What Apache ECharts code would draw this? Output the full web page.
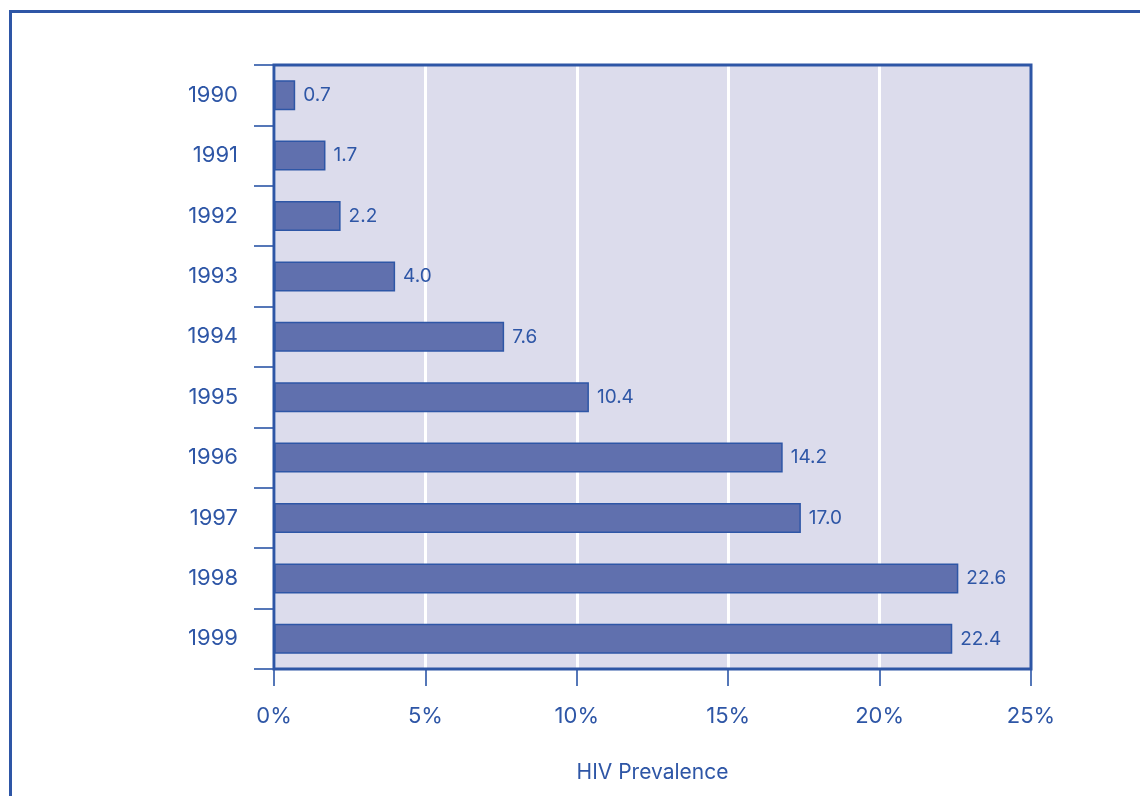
<!DOCTYPE html>
<html>
<head>
<meta charset="utf-8">
<script src="https://cdn.jsdelivr.net/npm/echarts@6/dist/echarts.min.js"></script>
<style>
html,body{margin:0;padding:0;background:#fff;}
#chart{width:1140px;height:796px;}
</style>
</head>
<body>
<div id="chart"></div>
<script>
const years = ['1990','1991','1992','1993','1994','1995','1996','1997','1998','1999'];
// bar lengths as drawn in the picture (%)
const barValues = [0.7, 1.7, 2.2, 4.0, 7.6, 10.4, 16.8, 17.4, 22.6, 22.4];
// value labels as printed beside the bars
const barLabels = ['0.7','1.7','2.2','4.0','7.6','10.4','14.2','17.0','22.6','22.4'];
const xTicks = [0, 5, 10, 15, 20, 25];
const axisTitle = 'HIV Prevalence';

const BLUE = '#2e56a6';
const FONT = 'Inter';
const chart = echarts.init(document.getElementById('chart'));
chart.setOption({
  animation: false,
  textStyle: {fontFamily: FONT},
  graphic: [{
    type: 'rect', z: -1,
    shape: {x: 10.5, y: 11.5, width: 1200, height: 900},
    style: {fill: 'none', stroke: BLUE, lineWidth: 3}
  }],
  grid: {
    left: 274, right: 109, top: 65, bottom: 127,
    show: true, backgroundColor: '#dcdcec', borderColor: BLUE, borderWidth: 0
  },
  xAxis: {
    type: 'value', min: xTicks[0], max: xTicks[xTicks.length - 1], interval: 5,
    axisLine: {show: false},
    axisTick: {show: true, length: 17, lineStyle: {color: '#5577b8', width: 2}},
    splitLine: {show: true, lineStyle: {color: '#ffffff', width: 3}},
    axisLabel: {formatter: '{value}%', color: BLUE, fontSize: 22, margin: 36, fontFamily: FONT},
    name: axisTitle, nameLocation: 'middle', nameGap: 93,
    nameTextStyle: {color: BLUE, fontSize: 21, fontFamily: FONT}
  },
  yAxis: {
    type: 'category', data: years, inverse: true,
    axisLine: {show: false},
    axisTick: {show: true, length: 20, lineStyle: {color: '#5577b8', width: 2}},
    axisLabel: {color: BLUE, fontSize: 22, margin: 36, fontFamily: FONT},
    splitLine: {show: false}
  },
  series: [{
    type: 'bar', data: barValues, barWidth: 30,
    itemStyle: {color: '#6070ae', borderColor: BLUE, borderWidth: 1.5},
    label: {
      show: true, position: 'right', distance: 8, color: BLUE, fontSize: 19, fontFamily: FONT,
      formatter: p => barLabels[p.dataIndex]
    },
    z: 3
  }, {
    // plot frame drawn on top of the split lines
    type: 'custom', z: 4, silent: true, data: [0],
    renderItem: (params, api) => ({
      type: 'rect',
      shape: {x: params.coordSys.x, y: params.coordSys.y, width: params.coordSys.width, height: params.coordSys.height},
      style: {fill: 'none', stroke: BLUE, lineWidth: 3}
    })
  }]
});
</script>
</body>
</html>
